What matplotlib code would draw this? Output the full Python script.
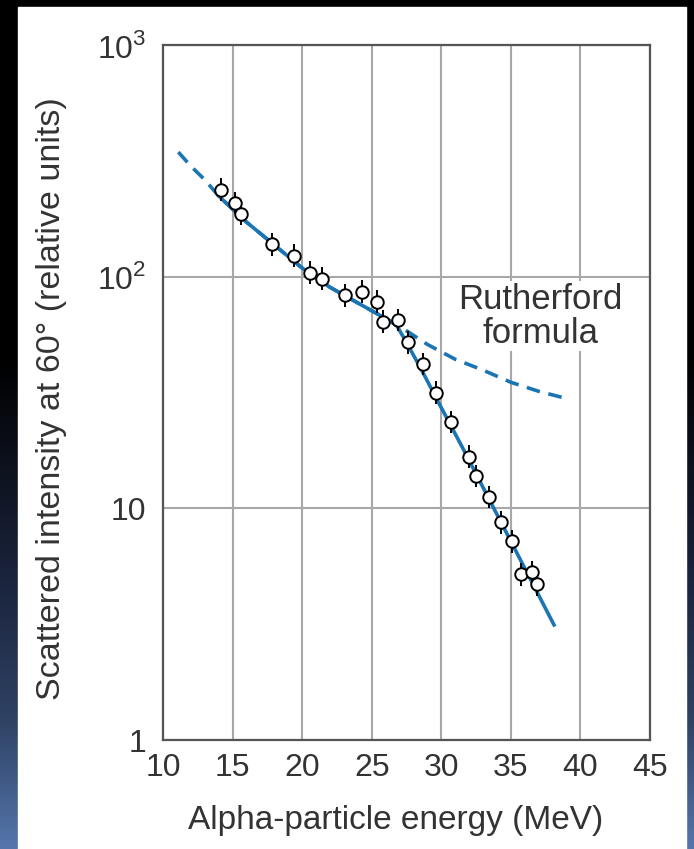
import numpy as np
import matplotlib
matplotlib.use("Agg")
import matplotlib.pyplot as plt
from matplotlib.colors import LinearSegmentedColormap
from matplotlib.patches import Rectangle

plt.rcParams['font.family'] = ['Liberation Sans', 'DejaVu Sans']
plt.rcParams['mathtext.fontset'] = 'custom'
plt.rcParams['mathtext.rm'] = 'Liberation Sans'

# medidas: energia (MeV) e intensidade dispersa a 60 graus
energia = [14.2, 15.2, 15.6, 17.8, 19.4, 20.6, 21.4, 23.1, 24.3, 25.4, 25.8, 26.9,
           27.6, 28.7, 29.6, 30.7, 32.0, 32.5, 33.4, 34.3, 35.1, 35.7, 36.5, 36.9]
intensidade = [237, 208, 187, 138, 123, 104, 98, 83, 86, 78, 64, 65,
               52, 42, 31.5, 23.6, 16.7, 13.8, 11.2, 8.7, 7.2, 5.2, 5.3, 4.7]
erro_rel = 0.12

# curva de Rutherford (tracejada)
ruth_E = [11.1, 12, 13, 14, 16, 18, 20, 22, 24, 26, 27.2, 29, 31, 33, 35, 37, 38.8]
ruth_I = [345, 300, 262, 223, 172, 137, 109, 90, 77, 66, 60, 51, 44, 39.5, 35, 32, 30]

# curva ajustada (continua)
ajuste_E = [14, 16, 18, 20, 22, 24, 26, 26.8, 27.5, 28.7, 29.7, 31.5, 38.1]
ajuste_I = [223, 172, 137, 109, 90, 77, 66, 61.5, 52, 38.4, 29.4, 18.4, 3.14]

xticks = [10, 15, 20, 25, 30, 35, 40, 45]
yticks = [1, 10, 100, 1000]
ytick_labels = ['1', '10', '$10^2$', '$10^3$']

azul = '#1b75b5'
texto = '#333333'

fig = plt.figure(figsize=(6.94, 8.49), dpi=100)

# fundo com degradê preto -> azul
fundo = fig.add_axes([0, 0, 1, 1])
cmap = LinearSegmentedColormap.from_list(
    'fundo', [(0, '#000000'), (0.42, '#000000'), (0.7, '#1c2640'),
              (0.85, '#2f4264'), (1, '#5475ab')])
grad = np.linspace(0, 1, 256).reshape(-1, 1)
fundo.imshow(grad, aspect='auto', cmap=cmap, extent=[0, 1, 0, 1], origin='upper')
fundo.add_patch(Rectangle((18 / 694, 0), (686 - 18) / 694, (849 - 7) / 849,
                          transform=fundo.transAxes, color='white', zorder=2))
fundo.set_xlim(0, 1)
fundo.set_ylim(0, 1)
fundo.axis('off')

ax = fig.add_axes([163 / 694, 1 - 740 / 849, 487 / 694, 695 / 849])
ax.set_facecolor('white')
ax.set_yscale('log')
ax.set_xlim(10, 45)
ax.set_ylim(1, 1000)

ax.set_xticks(xticks)
ax.set_yticks(yticks)
ax.set_yticklabels(ytick_labels)
ax.yaxis.set_minor_locator(matplotlib.ticker.NullLocator())
ax.tick_params(axis='both', length=0, labelsize=23, labelcolor=texto)
ax.tick_params(axis='x', pad=9)
ax.tick_params(axis='y', pad=12)

ax.grid(True, color='#a8a8a8', linewidth=1.5)
ax.set_axisbelow(True)
for s in ax.spines.values():
    s.set_color('#555555')
    s.set_linewidth(1.6)

ax.plot(ruth_E, ruth_I, color=azul, lw=2.6, dashes=(3.8, 2.4), zorder=3)
ax.plot(ajuste_E, ajuste_I, color=azul, lw=2.6, zorder=4)

y = np.array(intensidade)
yerr = [y * (1 - 1 / (1 + erro_rel)), y * erro_rel]
ax.errorbar(energia, intensidade, yerr=yerr, fmt='o', ms=9, mfc='white',
            mec='black', mew=1.4, ecolor='black', elinewidth=1.4, capsize=0,
            zorder=5)

ax.text(37.15, 67.5, 'Rutherford\nformula', ha='center', va='center',
        fontsize=25, color=texto, linespacing=1.05,
        bbox=dict(facecolor='white', edgecolor='none', pad=1), zorder=6)

fig.text(52 / 694, 1 - 399 / 849, 'Scattered intensity at 60° (relative units)',
         rotation=90, ha='center', va='center', fontsize=24.5, color=texto)
fig.text(396 / 694, 1 - 820 / 849, 'Alpha-particle energy (MeV)',
         ha='center', va='center', fontsize=24, color=texto)

fig.savefig('out.png', dpi=100)
